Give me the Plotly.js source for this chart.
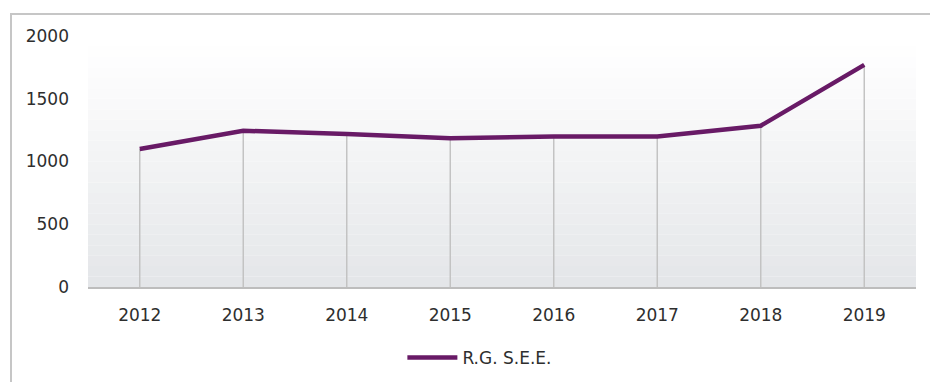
<!DOCTYPE html>
<html>
<head>
<meta charset="utf-8">
<script src="https://cdn.plot.ly/plotly-3.0.1.min.js"></script>
<style>
  html, body { margin: 0; padding: 0; background: #ffffff; }
  #wrap { position: relative; width: 930px; height: 382px; overflow: hidden; }
  #chart { position: absolute; left: 0; top: 0; width: 930px; height: 382px; }
  #frame { position: absolute; left: 10px; top: 13px; width: 940px; height: 400px;
           border-left: 2px solid #c6c6c6; border-top: 2px solid #c6c6c6; pointer-events: none; }
</style>
</head>
<body>
<div id="wrap">
  <div id="chart"></div>
  <div id="frame"></div>
</div>
<script>
// ---- data ----
const years = ['2012', '2013', '2014', '2015', '2016', '2017', '2018', '2019'];
const values = [1100, 1245, 1220, 1185, 1200, 1200, 1285, 1770];
const seriesName = 'R.G. S.E.E.';
const yTicks = [0, 500, 1000, 1500, 2000];

// drop lines built from the data arrays
const dropX = [], dropY = [];
years.forEach((yr, i) => { dropX.push(yr, yr, null); dropY.push(0, values[i], null); });

// plot-area gradient bands (style only)
const shapes = [];
const nb = 24;
const c0 = [255, 255, 255], c1 = [228, 230, 233];
for (let i = 0; i < nb; i++) {
  const t = i / (nb - 1);
  const c = c0.map((v, k) => Math.round(v + (c1[k] - v) * Math.pow(t, 1.1)));
  shapes.push({
    type: 'rect', xref: 'paper', yref: 'paper', layer: 'below',
    x0: 0, x1: 1, y0: 1 - (i + 1) / nb, y1: 1 - i / nb,
    fillcolor: 'rgb(' + c.join(',') + ')', line: { width: 0 }
  });
}

const font = 'DejaVu Sans, sans-serif';

const traces = [
  {
    x: dropX, y: dropY, type: 'scatter', mode: 'lines',
    line: { color: '#c3c3c3', width: 1.5 }, showlegend: false, hoverinfo: 'skip',
    connectgaps: false
  },
  {
    x: years, y: values, type: 'scatter', mode: 'lines', name: seriesName,
    line: { color: '#681a66', width: 4.5 }
  }
];

const layout = {
  width: 930, height: 382,
  margin: { l: 88, r: 14, t: 36, b: 95 },
  paper_bgcolor: 'rgba(0,0,0,0)',
  plot_bgcolor: 'rgba(0,0,0,0)',
  font: { family: font, size: 17, color: '#2e2e2e' },
  showlegend: true,
  legend: {
    orientation: 'h', xref: 'container', yref: 'container',
    x: 0.516, xanchor: 'center', y: 0.063, yanchor: 'middle',
    font: { family: font, size: 17, color: '#2e2e2e' },
    bgcolor: 'rgba(0,0,0,0)', itemwidth: 50
  },
  xaxis: {
    type: 'category', range: [-0.5, 7.5], automargin: false,
    showgrid: false, zeroline: false,
    showline: true, linecolor: '#bdbdbd', linewidth: 2,
    ticks: '', ticklabelstandoff: 12,
    tickfont: { family: font, size: 17, color: '#2e2e2e' }
  },
  yaxis: {
    range: [0, 2000], tickvals: yTicks, ticktext: yTicks.map(String), automargin: false,
    showgrid: false, zeroline: false, showline: false,
    ticks: '', ticklabelstandoff: 18,
    tickfont: { family: font, size: 17, color: '#2e2e2e' }
  },
  shapes: shapes
};

Plotly.newPlot('chart', traces, layout, { displayModeBar: false, staticPlot: true });
</script>
</body>
</html>
